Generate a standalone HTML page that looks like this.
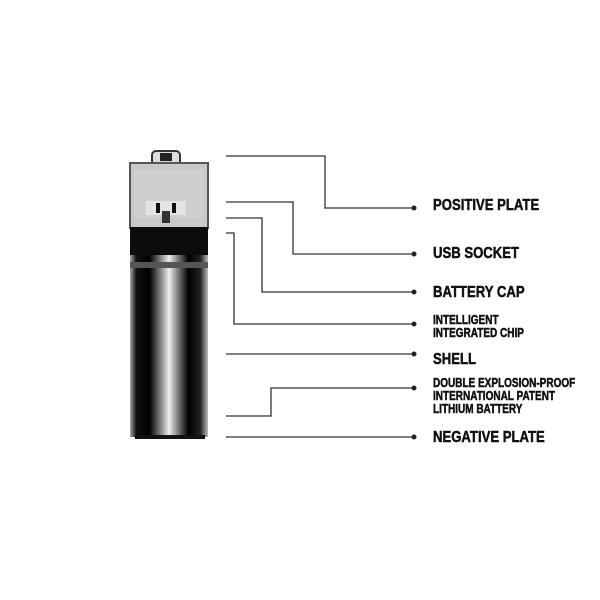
<!DOCTYPE html>
<html><head><style>
body{margin:0;background:#fff;width:600px;height:600px;overflow:hidden}
.t{position:absolute;left:433px;font-family:"Liberation Sans Narrow","Liberation Sans",sans-serif;font-weight:bold;color:#111;white-space:nowrap;transform-origin:left top;-webkit-text-stroke:0.5px #111}
.b{font-size:16px;transform:scaleX(0.82)}
.s{font-size:12.5px;line-height:13px;transform:scaleX(0.8)}
</style></head><body>
<svg width="600" height="600" style="position:absolute;left:0;top:0">
<defs>
<linearGradient id="cyl" x1="0" x2="1">
<stop offset="0" stop-color="#aaa"/><stop offset="0.08" stop-color="#111"/><stop offset="0.25" stop-color="#000"/>
<stop offset="0.38" stop-color="#777"/><stop offset="0.5" stop-color="#eee"/><stop offset="0.62" stop-color="#777"/>
<stop offset="0.75" stop-color="#000"/><stop offset="0.9" stop-color="#222"/><stop offset="1" stop-color="#bbb"/>
</linearGradient>
</defs>
<rect x="152" y="151" width="28" height="14" rx="4" fill="#ddd" stroke="#333" stroke-width="2"/>
<rect x="160" y="153" width="12" height="8" fill="#222"/>
<rect x="130" y="163" width="78" height="65" fill="#c9c9c9" stroke="#555" stroke-width="2"/>
<rect x="134" y="170" width="70" height="48" fill="#cfcfcf"/>
<rect x="146" y="201" width="40" height="14" fill="#e3e3e3"/>
<rect x="156" y="203" width="4" height="10" fill="#111"/><rect x="172" y="203" width="4" height="10" fill="#111"/>
<rect x="162" y="211" width="8" height="12" fill="#333"/>
<rect x="130" y="227" width="78" height="30" fill="#0c0c0c"/>
<rect x="130" y="255" width="78" height="182" fill="url(#cyl)"/>
<rect x="130" y="262" width="78" height="6" fill="#555"/>
<rect x="135" y="435" width="70" height="4" fill="#111"/>
<g fill="none" stroke="#333" stroke-width="1.3">
<polyline points="226,156 325,156 325,208 414,208"/>
<polyline points="226,202 293,202 293,254 414,254"/>
<polyline points="226,218 262,218 262,292 414,292"/>
<polyline points="226,233 234,233 234,324 414,324"/>
<polyline points="226,354 414,354"/>
<polyline points="226,416 271,416 271,388 414,388"/>
<polyline points="226,437 414,437"/>
</g>
<g fill="#222">
<circle cx="414" cy="208" r="2.5"/><circle cx="414" cy="254" r="2.5"/><circle cx="414" cy="292" r="2.5"/>
<circle cx="414" cy="324" r="2.5"/><circle cx="414" cy="354" r="2.5"/><circle cx="414" cy="388" r="2.5"/><circle cx="414" cy="437" r="2.5"/>
</g>
</svg>
<div class="t b" style="top:197px">POSITIVE PLATE</div>
<div class="t b" style="top:245px">USB SOCKET</div>
<div class="t b" style="top:284px">BATTERY CAP</div>
<div class="t s" style="top:314px">INTELLIGENT<br>INTEGRATED CHIP</div>
<div class="t b" style="top:351px">SHELL</div>
<div class="t s" style="top:377px">DOUBLE EXPLOSION-PROOF<br>INTERNATIONAL PATENT<br>LITHIUM BATTERY</div>
<div class="t b" style="top:429px">NEGATIVE PLATE</div>
</body></html>
